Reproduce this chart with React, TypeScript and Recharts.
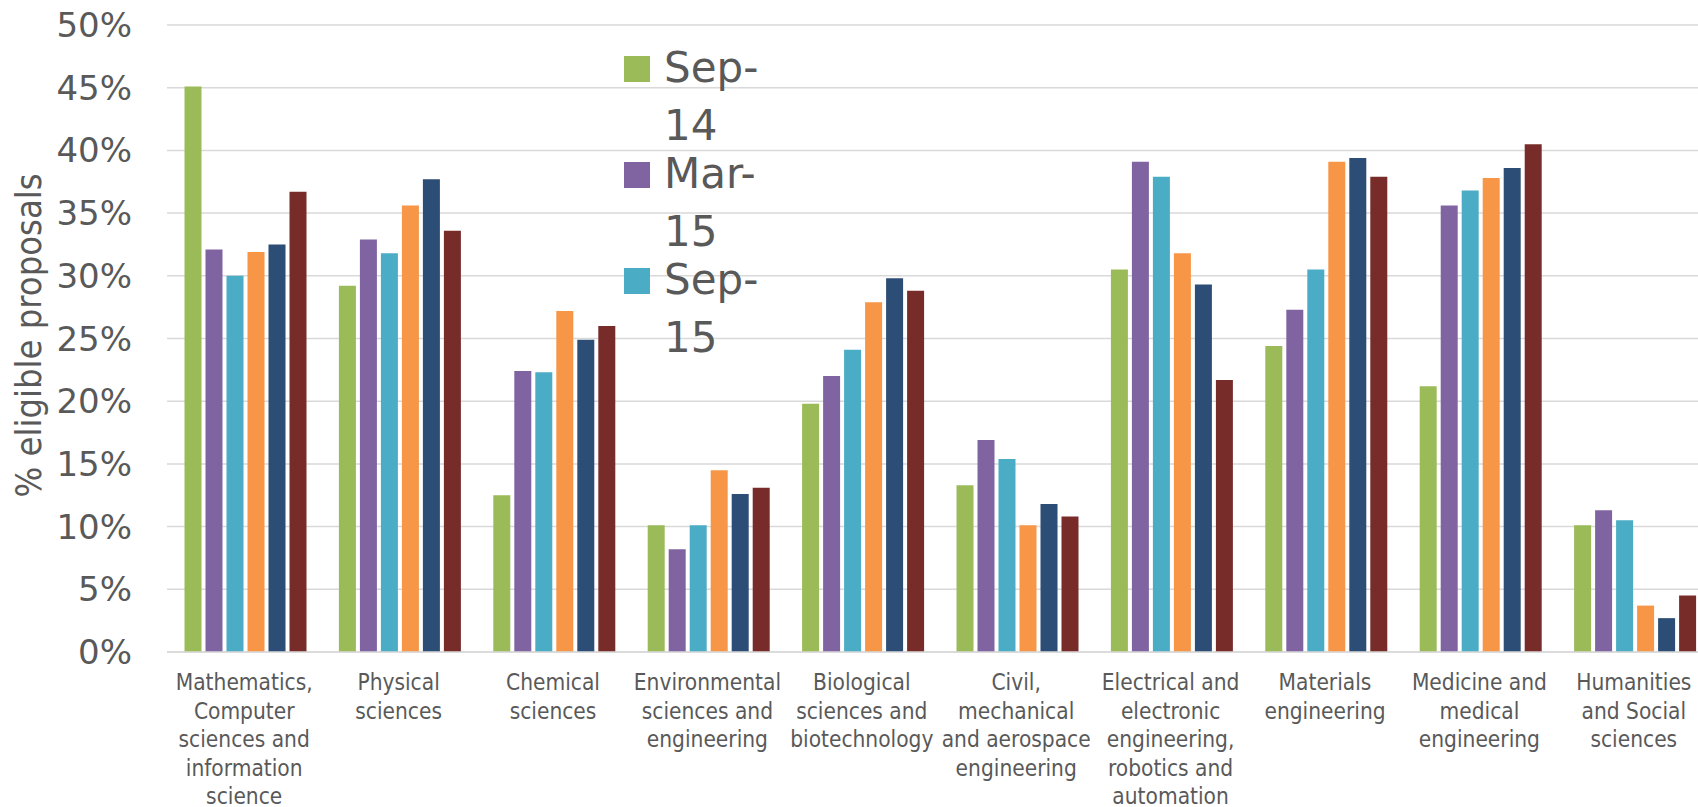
import * as React from "react";
import { BarChart, Bar, XAxis, YAxis, CartesianGrid, Legend } from "recharts";

/* ---------- data ---------- */
const categories = [
  "Mathematics,\nComputer\nsciences and\ninformation\nscience",
  "Physical\nsciences",
  "Chemical\nsciences",
  "Environmental\nsciences and\nengineering",
  "Biological\nsciences and\nbiotechnology",
  "Civil,\nmechanical\nand aerospace\nengineering",
  "Electrical and\nelectronic\nengineering,\nrobotics and\nautomation",
  "Materials\nengineering",
  "Medicine and\nmedical\nengineering",
  "Humanities\nand Social\nsciences",
];

const seriesNames = ["Sep-14", "Mar-15", "Sep-15", "Mar-16", "Sep-16", "Mar-17"];

// % of eligible proposals per call
const sep14 = [45.1, 29.2, 12.5, 10.1, 19.8, 13.3, 30.5, 24.4, 21.2, 10.1];
const mar15 = [32.1, 32.9, 22.4, 8.2, 22.0, 16.9, 39.1, 27.3, 35.6, 11.3];
const sep15 = [30.0, 31.8, 22.3, 10.1, 24.1, 15.4, 37.9, 30.5, 36.8, 10.5];
const mar16 = [31.9, 35.6, 27.2, 14.5, 27.9, 10.1, 31.8, 39.1, 37.8, 3.7];
const sep16 = [32.5, 37.7, 24.9, 12.6, 29.8, 11.8, 29.3, 39.4, 38.6, 2.7];
const mar17 = [36.7, 33.6, 26.0, 13.1, 28.8, 10.8, 21.7, 37.9, 40.5, 4.5];

const yTicks = [0, 5, 10, 15, 20, 25, 30, 35, 40, 45, 50];

/* ---------- visuals ---------- */
const palette = ["#9BBB59", "#8064A2", "#4BACC6", "#F79646", "#2C4D75", "#772C2A"];
const textColor = "#595959";
const gridStroke = "#D9D9D9";
const seriesValues = [sep14, mar15, sep15, mar16, sep16, mar17];

const data = categories.map((name, i) => {
  const row: Record<string, string | number> = { name };
  seriesNames.forEach((s, k) => {
    row[s] = seriesValues[k][i];
  });
  return row;
});

/* multi-line category labels under the axis */
const CategoryTick = (props: any) => {
  const { x, y, payload } = props;
  const lines = String(payload.value).split("\n");
  return (
    <text
      x={x}
      y={y}
      textAnchor="middle"
      fill={textColor}
      fontFamily="'DejaVu Sans Condensed', 'DejaVu Sans'"
      fontSize={22.5}
    >
      {lines.map((line, i) => (
        <tspan key={i} x={x} dy={i === 0 ? 38 : 28.5}>
          {line}
        </tspan>
      ))}
    </text>
  );
};

/* legend only lists the first three calls (the box is too narrow for the rest) */
const renderLegend = () => (
  <div>
    {seriesNames.slice(0, 3).map((name, i) => {
      const [head, tail] = name.split("-");
      return (
        <div key={name} style={{ position: "relative", height: 106, paddingLeft: 40 }}>
          <span
            style={{
              position: "absolute",
              left: 0,
              top: 17.5,
              width: 26,
              height: 26,
              background: palette[i],
            }}
          />
          <div
            style={{
              fontFamily: "'DejaVu Sans'",
              fontSize: 42,
              lineHeight: "58px",
              color: textColor,
              whiteSpace: "nowrap",
            }}
          >
            {head}-
            <br />
            {tail}
          </div>
        </div>
      );
    })}
  </div>
);

const AxisTitle = (props: any) => {
  const { viewBox } = props;
  const cx = 28;
  const cy = viewBox.y + viewBox.height / 2 - 3;
  return (
    <text
      x={cx}
      y={cy}
      transform={`rotate(-90, ${cx}, ${cy})`}
      textAnchor="middle"
      dominantBaseline="central"
      fill={textColor}
      fontFamily="'DejaVu Sans Condensed', 'DejaVu Sans'"
      fontSize={36}
    >
      % eligible proposals
    </text>
  );
};

export default function App() {
  return (
    <div
      style={{
        position: "absolute",
        left: 0,
        top: 0,
        width: 1698,
        height: 807,
        overflow: "hidden",
        background: "#fff",
      }}
    >
      <BarChart
        width={1720}
        height={807}
        data={data}
        margin={{ top: 25, right: 9, bottom: 0, left: 0 }}
        barCategoryGap={17.5}
        barGap={4}
      >
        <CartesianGrid vertical={false} stroke={gridStroke} strokeWidth={1.5} />
        <XAxis
          dataKey="name"
          interval={0}
          height={155}
          tick={<CategoryTick />}
          tickLine={false}
          tickSize={0}
          tickMargin={0}
          axisLine={{ stroke: gridStroke, strokeWidth: 1.5 }}
        />
        <YAxis
          width={167}
          domain={[0, 50]}
          ticks={yTicks}
          interval={0}
          tickFormatter={(v: number) => `${v}%`}
          tick={{ fontSize: 34, fill: textColor, fontFamily: "'DejaVu Sans'" }}
          tickLine={false}
          tickSize={0}
          tickMargin={35}
          axisLine={false}
          label={<AxisTitle />}
        />
        <Legend
          layout="vertical"
          align="center"
          verticalAlign="middle"
          content={renderLegend}
          wrapperStyle={{ left: 624, top: 38.5, width: 160 }}
        />
        {seriesNames.map((s, i) => (
          <Bar key={s} dataKey={s} fill={palette[i]} isAnimationActive={false} />
        ))}
      </BarChart>
    </div>
  );
}
